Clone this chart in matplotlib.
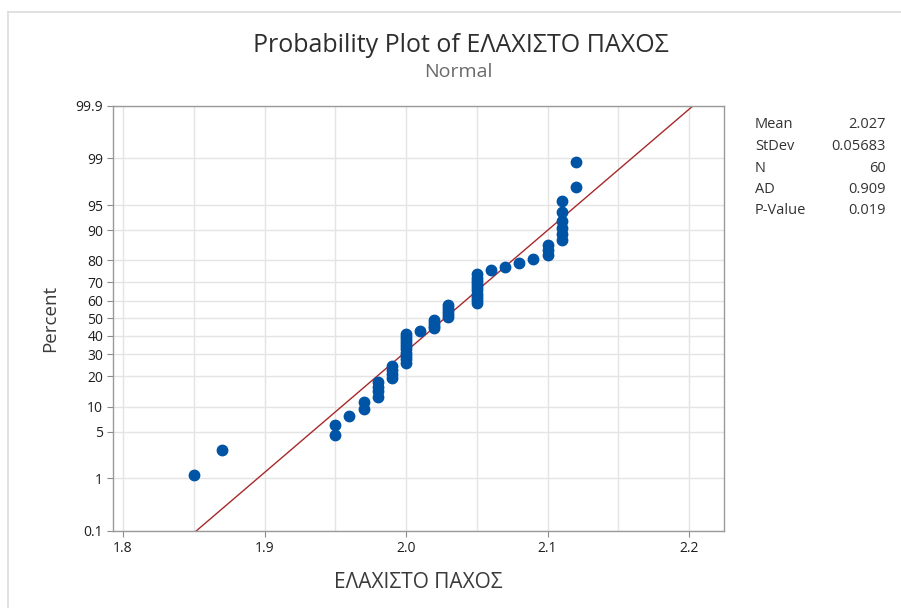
import matplotlib
matplotlib.use("Agg")
import matplotlib.pyplot as plt
from matplotlib.lines import Line2D
import numpy as np
from statistics import NormalDist

plt.rcParams['font.family'] = ['Open Sans', 'DejaVu Sans']

# Measured thickness values and how often each occurs
values = [1.85, 1.87, 1.95, 1.96, 1.97, 1.98, 1.99, 2.00, 2.01, 2.02,
          2.03, 2.05, 2.06, 2.07, 2.08, 2.09, 2.10, 2.11, 2.12]
counts = [1, 1, 2, 1, 2, 4, 4, 10, 1, 4,
          5, 10, 1, 1, 1, 1, 3, 6, 2]

percent_ticks = [0.1, 1, 5, 10, 20, 30, 40, 50, 60, 70, 80, 90, 95, 99, 99.9]
percent_labels = ["0.1", "1", "5", "10", "20", "30", "40", "50", "60",
                  "70", "80", "90", "95", "99", "99.9"]
x_ticks = [1.8, 1.9, 2.0, 2.1, 2.2]
x_tick_labels = ["1.8", "1.9", "2.0", "2.1", "2.2"]

stat_names = ["Mean", "StDev", "N", "AD", "P-Value"]
stat_values = ["2.027", "0.05683", "60", "0.909", "0.019"]

nd = NormalDist()
data = np.sort(np.repeat(values, counts))
n = len(data)
mean = data.mean()
sd = data.std(ddof=1)

# Median-rank plotting positions on a normal probability scale
ranks = np.arange(1, n + 1)
pp = (ranks - 0.3) / (n + 0.4)
z_pts = np.array([nd.inv_cdf(p) for p in pp])

W, H = 901, 608
fig = plt.figure(figsize=(W / 100, H / 100), dpi=100)
left, right, top, bottom = 113, 724, 105.7, 531
ax = fig.add_axes([left / W, 1 - bottom / H, (right - left) / W, (bottom - top) / H])

z_lo = nd.inv_cdf(0.001)
z_hi = nd.inv_cdf(0.999)

# Fitted normal line
z_line = np.linspace(z_lo, z_hi, 200)
ax.plot(mean + sd * z_line, z_line, color="#a8282a", lw=1.0, zorder=2)

ax.plot(data, z_pts, 'o', color="#0054a6", ms=7.5, mec="#0054a6", zorder=3)

ax.set_xlim(1.8 - 10 / 1415, 2.2 + 35 / 1415)
ax.set_ylim(z_lo, z_hi)

ax.set_xticks(x_ticks)
ax.set_xticklabels(x_tick_labels)
ax.set_xticks(np.arange(1.8, 2.2001, 0.05), minor=True)
ax.set_yticks([nd.inv_cdf(p / 100) for p in percent_ticks])
ax.set_yticklabels(percent_labels)

ax.grid(True, which="major", axis="y", color="#e4e4e4", lw=1.0, zorder=0)
ax.grid(True, which="both", axis="x", color="#e4e4e4", lw=1.0, zorder=0)
ax.set_axisbelow(True)
ax.tick_params(axis="x", which="minor", length=0)
ax.tick_params(which="major", length=4, width=0.8, color="#8c8c8c",
               labelsize=10, labelcolor="#1e1e1e", pad=3)
for lbl in ax.get_xticklabels() + ax.get_yticklabels():
    lbl.set_fontweight("medium")
for s in ax.spines.values():
    s.set_color("#9a9a9a")
    s.set_linewidth(1.0)

ax.set_xlabel("ΕΛΑΧΙΣΤΟ ΠΑΧΟΣ", fontsize=15, color="#3a3a3a", labelpad=12)
ax.set_ylabel("Percent", fontsize=13.5, color="#3a3a3a", labelpad=12)

fig.text(461 / W, 1 - 45 / H, "Probability Plot of ΕΛΑΧΙΣΤΟ ΠΑΧΟΣ",
         ha="center", va="center", fontsize=18, color="#2e2e2e")
fig.text(458 / W, 1 - 72 / H, "Normal", ha="center", va="center",
         fontsize=14, color="#6a6a6a")

for i, (nm, val) in enumerate(zip(stat_names, stat_values)):
    yy = 1 - (125 + i * 21.5) / H
    fig.text(755 / W, yy, nm, ha="left", va="center", fontsize=10.5, color="#333333")
    fig.text(886 / W, yy, val, ha="right", va="center", fontsize=10.5, color="#333333")

# Outer frame edges
fig.add_artist(Line2D([8 / W, 1], [1 - 12 / H, 1 - 12 / H], transform=fig.transFigure,
                      color="#dcdcdc", lw=1.2))
fig.add_artist(Line2D([8 / W, 8 / W], [0, 1 - 12 / H], transform=fig.transFigure,
                      color="#dcdcdc", lw=1.2))

fig.savefig("out.png", dpi=100)
